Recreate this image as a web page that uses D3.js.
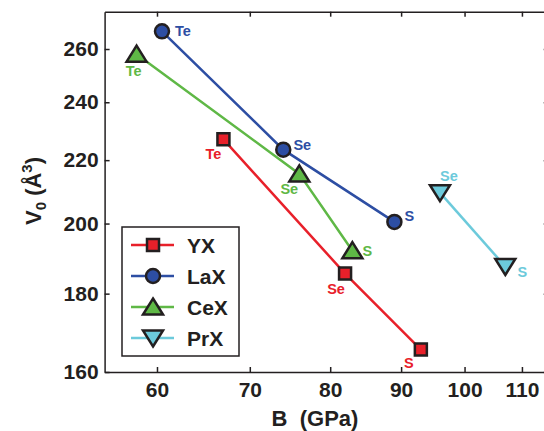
<!DOCTYPE html>
<html>
<head>
<meta charset="utf-8">
<title>V0 vs B</title>
<script src="https://cdn.jsdelivr.net/npm/d3@7"></script>
<style>
  body { margin: 0; background: #fff; }
  text { font-family: "Liberation Sans", Arial, Helvetica, sans-serif; font-weight: bold; fill: #231f20; }
  .axis path, .axis line { stroke: #231f20; stroke-width: 1.5px; }
  .axis text { font-size: 21px; }
  .ptlabel { font-size: 14.5px; }
</style>
</head>
<body>
<svg width="544" height="431"></svg>
<script>
// data
const seriesNames = ["YX", "LaX", "CeX", "PrX"];
const anions = [["Te", "Se", "S"], ["Te", "Se", "S"], ["Te", "Se", "S"], ["Se", "S"]];
const bulkModulus = [[67, 82, 93], [60.5, 74, 89], [58, 76, 83], [96, 107]];   // B (GPa)
const volume = [[227, 185.5, 165.5], [267, 223.5, 200.5], [258, 215.5, 192], [209.5, 187.5]]; // V0 (A^3)
const xTicks = [60, 70, 80, 90, 100, 110];
const yTicks = [160, 180, 200, 220, 240, 260];

// styles
const colors = ["#e8202a", "#2d4ea3", "#5fb846", "#6ccadb"];
const markers = ["square", "circle", "up", "down"];
// label offsets (text centre relative to marker)
const labelOffsets = [
  [[-10, 14], [-9, 15], [-12, 13]],
  [[21, -1], [19, -5], [15, -6]],
  [[-3, 17], [-10, 15], [15, 0]],
  [[9, -17], [17, 5]]
];

const svg = d3.select("svg");
const x = d3.scaleLog().domain([55, 115]).range([104.6, 548.7]);
const y = d3.scaleLog().domain([160, 275]).range([372, 11.7]);

function markerPath(type) {
  if (type === "square") return "M-6,-6H6V6H-6Z";
  if (type === "circle") return d3.symbol(d3.symbolCircle, Math.PI * 49)();
  if (type === "up") return "M0,-8.5L10,7.5L-10,7.5Z";
  return "M0,8.5L10,-7.5L-10,-7.5Z";
}

// axes
svg.append("g").attr("class", "axis")
  .attr("transform", `translate(0,${y.range()[0]})`)
  .call(d3.axisBottom(x).tickValues(xTicks).tickFormat(d3.format("d")).tickSizeInner(-5).tickSizeOuter(0).tickPadding(10));
svg.append("g").attr("class", "axis")
  .attr("transform", `translate(0,${y.range()[1]})`)
  .call(d3.axisTop(x).tickValues(xTicks).tickFormat("").tickSizeInner(-5).tickSizeOuter(0));
svg.append("g").attr("class", "axis")
  .attr("transform", `translate(${x.range()[0]},0)`)
  .call(d3.axisLeft(y).tickValues(yTicks).tickFormat(d3.format("d")).tickSizeInner(-5).tickSizeOuter(0).tickPadding(6));
svg.append("g").attr("class", "axis")
  .attr("transform", `translate(${x.range()[1]},0)`)
  .call(d3.axisRight(y).tickValues(yTicks).tickFormat("").tickSizeInner(-5).tickSizeOuter(0));

// axis titles
svg.append("text")
  .attr("x", 315).attr("y", 426)
  .attr("text-anchor", "middle")
  .style("font-size", "22px")
  .text("B\u00a0\u00a0(GPa)");

const yTitle = svg.append("text")
  .attr("transform", "translate(41,191) rotate(-90)")
  .attr("text-anchor", "middle")
  .style("font-size", "22px");
yTitle.append("tspan").text("V");
yTitle.append("tspan").attr("dy", 5).style("font-size", "15px").text("0");
yTitle.append("tspan").attr("dy", -5).text("\u00a0(Å");
yTitle.append("tspan").attr("dy", -9).style("font-size", "15px").text("3");
yTitle.append("tspan").attr("dy", 9).text(")");

// series
const line = d3.line().x(d => x(d[0])).y(d => y(d[1]));
seriesNames.forEach((name, i) => {
  const pts = bulkModulus[i].map((b, j) => [b, volume[i][j], anions[i][j], labelOffsets[i][j]]);
  const g = svg.append("g");
  g.append("path").datum(pts)
    .attr("d", line)
    .attr("fill", "none")
    .attr("stroke", colors[i])
    .attr("stroke-width", 2.5);
  g.selectAll("path.mk").data(pts).enter().append("path")
    .attr("class", "mk")
    .attr("transform", d => `translate(${x(d[0])},${y(d[1])})`)
    .attr("d", markerPath(markers[i]))
    .attr("fill", colors[i])
    .attr("stroke", "#231f20")
    .attr("stroke-width", 2.5)
    .attr("stroke-linejoin", "miter");
  g.selectAll("text").data(pts).enter().append("text")
    .attr("class", "ptlabel")
    .attr("x", d => x(d[0]) + d[3][0])
    .attr("y", d => y(d[1]) + d[3][1])
    .attr("dy", "0.36em")
    .attr("text-anchor", "middle")
    .style("fill", colors[i])
    .text(d => d[2]);
});

// legend
const legend = svg.append("g").attr("transform", "translate(122,227)");
legend.append("rect")
  .attr("width", 117).attr("height", 129)
  .attr("fill", "#fff")
  .attr("stroke", "#231f20")
  .attr("stroke-width", 1.5);
seriesNames.forEach((name, i) => {
  const row = legend.append("g").attr("transform", `translate(0,${18 + i * 31})`);
  row.append("line")
    .attr("x1", 9).attr("x2", 52)
    .attr("stroke", colors[i]).attr("stroke-width", 2.5);
  row.append("path")
    .attr("transform", "translate(31,0)")
    .attr("d", markerPath(markers[i]))
    .attr("fill", colors[i])
    .attr("stroke", "#231f20")
    .attr("stroke-width", 2.5);
  row.append("text")
    .attr("x", 65).attr("dy", "0.36em")
    .style("font-size", "21px")
    .text(name);
});
</script>
</body>
</html>
